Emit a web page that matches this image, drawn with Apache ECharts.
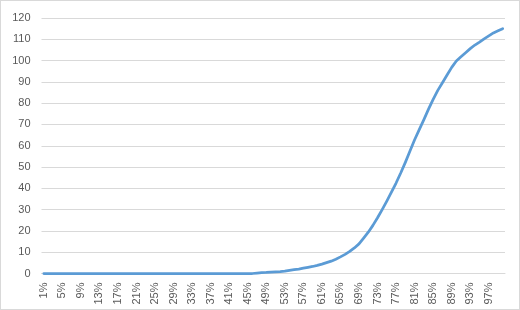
<!DOCTYPE html>
<html>
<head>
<meta charset="utf-8">
<script src="https://cdn.jsdelivr.net/npm/echarts@6/dist/echarts.min.js"></script>
<style>
html,body{margin:0;padding:0;background:#fff;}
#c{position:absolute;left:0;top:0;width:518px;height:308px;border:1px solid #d9d9d9;}
</style>
</head>
<body>
<div id="c"></div>
<script>
// categories 1%..100%
const categories = [];
for (let p = 1; p <= 100; p++) categories.push(p + '%');

// values (percent 1..100)
const flatPart = [0,0,0,0,0,0,0,0,0,0, 0,0,0,0,0,0,0,0,0,0, 0,0,0,0,0,0,0,0,0,0, 0,0,0,0,0,0,0,0,0,0, 0,0,0,0,0,0];        // 1%..46%
const risePart = [0.2,0.4,0.5,0.7,0.8,0.9,1.1,1.5,1.8,2.1,2.5,2.9,3.3,3.8,4.4,5.1,5.8,6.7,7.8,9.0,
                  10.4,12.0,13.9,16.6,19.4,22.6,26.2,30.0,34.0,38.2,42.5,47.2,52.2,57.5,62.8,67.6,72.3,77.2,81.8,86.0,
                  89.6,93.2,96.8,99.8,101.8,103.7,105.6,107.3,108.7,110.2,111.6,113.0,114.0,115.0]; // 47%..100%
const values = flatPart.concat(risePart);

const yTicks = {min: 0, max: 120, interval: 10};

const chart = echarts.init(document.getElementById('c'), null, {renderer: 'canvas'});
chart.setOption({
  animation: false,
  grid: {left: 40.5, right: 14, top: 17, bottom: 35.5, containLabel: false},
  xAxis: {
    type: 'category',
    data: categories,
    boundaryGap: true,
    axisLine: {lineStyle: {color: '#d9d9d9', width: 1}},
    axisTick: {show: false},
    axisLabel: {
      interval: 3,
      rotate: 90,
      margin: 9,
      color: '#595959',
      fontFamily: 'Liberation Sans',
      fontSize: 11
    },
    splitLine: {show: false}
  },
  yAxis: {
    type: 'value',
    min: yTicks.min,
    max: yTicks.max,
    interval: yTicks.interval,
    axisLine: {show: false},
    axisTick: {show: false},
    axisLabel: {
      margin: 11,
      color: '#595959',
      fontFamily: 'Liberation Sans',
      fontSize: 11
    },
    splitLine: {lineStyle: {color: '#d9d9d9', width: 1}}
  },
  series: [{
    type: 'line',
    data: values,
    showSymbol: false,
    symbol: 'none',
    lineStyle: {color: '#5b9bd5', width: 2.75, cap: 'round', join: 'round'},
    itemStyle: {color: '#5b9bd5'}
  }]
});
</script>
</body>
</html>
